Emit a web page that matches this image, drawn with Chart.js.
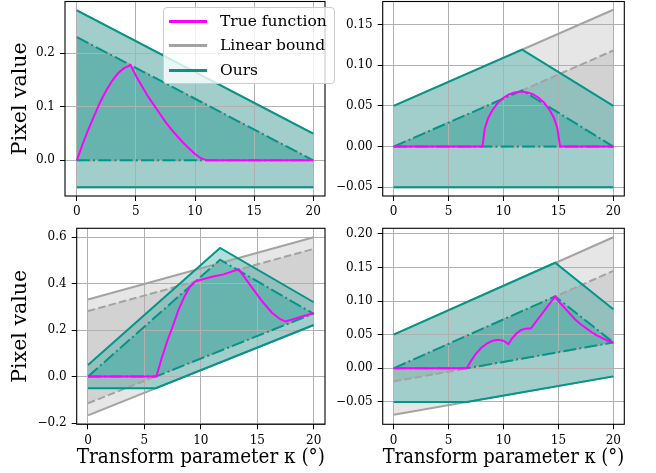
<!DOCTYPE html>
<html>
<head>
<meta charset="utf-8">
<script src="https://cdn.jsdelivr.net/npm/chart.js@4"></script>
<style>
body { margin: 0; background: #fff; }
#wrap { position: relative; width: 656px; height: 473px; overflow: hidden; }
#wrap canvas { position: absolute; left: 0; top: 0; }
#legend {
    position: absolute; left: 163px; top: 7px; width: 172px; height: 77px;
    box-sizing: border-box; border: 1px solid #cccccc; border-radius: 4px;
    background: rgba(255, 255, 255, 0.8);
    font-family: "DejaVu Serif", serif; font-size: 15.5px; color: #000;
}
#legend .row { position: absolute; left: 0; width: 100%; height: 0; }
#legend .sw { position: absolute; left: 5px; width: 38px; top: -1.5px; height: 3px; }
#legend .lab { position: absolute; left: 56px; top: -10px; line-height: 20px; white-space: nowrap; }
</style>
</head>
<body>
<div id="wrap">
    <canvas id="p1" width="656" height="473"></canvas>
    <canvas id="p2" width="656" height="473"></canvas>
    <canvas id="p3" width="656" height="473"></canvas>
    <canvas id="p4" width="656" height="473"></canvas>
    <div id="legend"></div>
</div>
<script>
// Shared axis text
const xTicks = [0, 5, 10, 15, 20];
const xTickLabels = ['0', '5', '10', '15', '20'];
const xLabel = 'Transform parameter κ (°)';
const yLabel = 'Pixel value';
const legendLabels = ['True function', 'Linear bound', 'Ours'];
const kEnds = [0, 20];

// Panel 1 (top left)
const p1TrueX = [0, 0.5, 1, 1.5, 2, 2.5, 3, 3.5, 4, 4.55, 5, 5.5, 6, 6.5, 7, 7.5, 8, 8.5, 9, 9.5, 10, 10.5, 11, 20];
const p1TrueY = [0, 0.031, 0.059, 0.085, 0.110, 0.131, 0.149, 0.163, 0.172, 0.178, 0.158, 0.139, 0.120, 0.104, 0.088, 0.072, 0.058, 0.045, 0.033, 0.022, 0.012, 0.004, 0, 0];
const p1LinOuterUp = [0.28, 0.05];
const p1LinOuterLo = [-0.05, -0.05];
const p1LinInnerUp = [0.23, 0];
const p1LinInnerLo = [0, 0];
const p1OursUpX = [0, 20];
const p1OursOuterUp = [0.28, 0.05];
const p1OursInnerUp = [0.23, 0];
const p1OursLoX = [0, 20];
const p1OursOuterLo = [-0.05, -0.05];
const p1OursInnerLo = [0, 0];
const p1YTicks = [0, 0.1, 0.2];
const p1YLabels = ['0.0', '0.1', '0.2'];

// Panel 2 (top right)
const p2TrueX = [0, 8.08, 8.3, 8.6, 9, 9.5, 10, 10.5, 11, 11.6, 12.2, 12.7, 13.2, 13.7, 14.2, 14.6, 14.9, 15.15, 20];
const p2TrueY = [0, 0, 0.023, 0.035, 0.045, 0.054, 0.060, 0.064, 0.0665, 0.0676, 0.0665, 0.064, 0.060, 0.054, 0.045, 0.035, 0.023, 0, 0];
const p2LinOuterUp = [0.05, 0.168];
const p2LinOuterLo = [-0.05, -0.05];
const p2LinInnerUp = [0, 0.118];
const p2LinInnerLo = [0, 0];
const p2OursUpX = [0, 11.7, 20];
const p2OursOuterUp = [0.05, 0.119, 0.05];
const p2OursInnerUp = [0, 0.069, 0];
const p2OursLoX = [0, 20];
const p2OursOuterLo = [-0.05, -0.05];
const p2OursInnerLo = [0, 0];
const p2YTicks = [-0.05, 0, 0.05, 0.1, 0.15];
const p2YLabels = ['\u22120.05', '0.00', '0.05', '0.10', '0.15'];

// Panel 3 (bottom left)
const p3TrueX = [0, 6.06, 6.5, 7, 7.5, 8, 8.5, 9, 9.5, 11, 12, 13.35, 14.5, 15.5, 16.3, 17, 17.5, 20];
const p3TrueY = [0, 0, 0.075, 0.15, 0.215, 0.285, 0.34, 0.385, 0.41, 0.43, 0.44, 0.462, 0.385, 0.32, 0.275, 0.248, 0.237, 0.274];
const p3LinOuterUp = [0.332, 0.600];
const p3LinOuterLo = [-0.167, 0.222];
const p3LinInnerUp = [0.282, 0.55];
const p3LinInnerLo = [-0.115, 0.272];
const p3OursUpX = [0, 11.7, 20];
const p3OursOuterUp = [0.05, 0.554, 0.32];
const p3OursInnerUp = [0, 0.503, 0.27];
const p3OursLoX = [0, 6, 20];
const p3OursOuterLo = [-0.05, -0.05, 0.222];
const p3OursInnerLo = [0, 0, 0.272];
const p3YTicks = [-0.2, 0, 0.2, 0.4, 0.6];
const p3YLabels = ['\u22120.2', '0.0', '0.2', '0.4', '0.6'];

// Panel 4 (bottom right)
const p4TrueX = [0, 6.66, 7, 7.5, 8, 8.5, 9, 9.5, 10, 10.45, 10.8, 11.2, 11.6, 12, 12.5, 14.7, 15, 15.5, 16, 16.5, 17, 17.5, 18, 18.5, 19, 19.5, 20];
const p4TrueY = [0, 0, 0.010, 0.022, 0.031, 0.037, 0.041, 0.0425, 0.041, 0.036, 0.045, 0.052, 0.057, 0.059, 0.0595, 0.107, 0.100, 0.091, 0.082, 0.073, 0.066, 0.060, 0.054, 0.049, 0.045, 0.041, 0.0385];
const p4LinOuterUp = [0.05, 0.195];
const p4LinOuterLo = [-0.069, -0.012];
const p4LinInnerUp = [0, 0.145];
const p4LinInnerLo = [-0.0195, 0.0385];
const p4OursUpX = [0, 14.7, 20];
const p4OursOuterUp = [0.05, 0.157, 0.088];
const p4OursInnerUp = [0, 0.107, 0.0385];
const p4OursLoX = [0, 6.66, 20];
const p4OursOuterLo = [-0.05, -0.05, -0.012];
const p4OursInnerLo = [0, 0, 0.0385];
const p4YTicks = [-0.05, 0, 0.05, 0.1, 0.15, 0.2];
const p4YLabels = ['\u22120.05', '0.00', '0.05', '0.10', '0.15', '0.20'];

// Styles
const TEAL = '#009688';
const GREY = '#a3a3a3';
const MAGENTA = '#ff00ff';
const TEAL_FILL = 'rgba(0,150,136,0.3)';
const GREY_FILL = 'rgba(128,128,128,0.2)';
const DASH = [7.5, 3.2];
const DASHDOT = [13, 3.2, 2, 3.2];
const FONT = '"DejaVu Serif", serif';

function pts(xs, ys) {
    return xs.map((x, i) => ({ x: x, y: ys[i] }));
}

function line(xs, ys, color, dash, order, fillColor) {
    return {
        data: pts(xs, ys),
        borderColor: color,
        borderWidth: 2,
        borderDash: dash,
        pointRadius: 0,
        tension: 0,
        order: order,
        fill: fillColor ? '+1' : false,
        backgroundColor: fillColor || 'transparent'
    };
}

// Axes box outline
const frame = {
    id: 'frame',
    afterDatasetsDraw(chart) {
        const a = chart.chartArea;
        const ctx = chart.ctx;
        ctx.save();
        ctx.strokeStyle = '#000';
        ctx.lineWidth = 1.1;
        ctx.strokeRect(a.left, a.top, a.right - a.left, a.bottom - a.top);
        ctx.restore();
    }
};

function makePanel(id, p) {
    const box = p.box;
    const xAxisH = p.xTitle ? 473 - box.b : 30;
    const padL = p.yTitle ? 0 : 330;
    const datasets = [
        line(kEnds, p.linOuterUp, GREY, [], 4, GREY_FILL),
        line(kEnds, p.linOuterLo, GREY, [], 4),
        line(kEnds, p.linInnerUp, GREY, DASH, 3, GREY_FILL),
        line(kEnds, p.linInnerLo, GREY, DASH, 3),
        line(p.upX, p.oursOuterUp, TEAL, [], 2, TEAL_FILL),
        line(p.loX, p.oursOuterLo, TEAL, [], 2),
        line(p.upX, p.oursInnerUp, TEAL, DASHDOT, 1, TEAL_FILL),
        line(p.loX, p.oursInnerLo, TEAL, DASHDOT, 1),
        line(p.trueX, p.trueY, MAGENTA, [], 0)
    ];
    return new Chart(document.getElementById(id), {
        type: 'line',
        data: { datasets: datasets },
        options: {
            responsive: false,
            animation: false,
            events: [],
            layout: { padding: { left: padL, top: box.t, right: 656 - box.r, bottom: 473 - box.b - xAxisH } },
            plugins: {
                legend: { display: false },
                tooltip: { enabled: false },
                filler: { drawTime: 'beforeDraw' }
            },
            scales: {
                x: {
                    type: 'linear', min: -1, max: 21,
                    afterBuildTicks: s => { s.ticks = xTicks.map(v => ({ value: v })); },
                    afterFit: s => { s.height = xAxisH; s.paddingLeft = 0; s.paddingRight = 0; },
                    ticks: {
                        callback: (v, i) => xTickLabels[i],
                        font: { family: FONT, size: 12 }, color: '#000',
                        padding: 4, maxRotation: 0, autoSkip: false
                    },
                    grid: { color: '#b0b0b0', lineWidth: 1, tickColor: '#000', tickLength: 5, tickWidth: 1 },
                    border: { display: false },
                    title: {
                        display: p.xTitle, text: xLabel, color: '#000',
                        font: { family: FONT, size: 20.5 }, padding: { top: 0, bottom: 3 }
                    }
                },
                y: {
                    type: 'linear', min: p.yMin, max: p.yMax,
                    afterBuildTicks: s => { s.ticks = p.yTicks.map(v => ({ value: v })); },
                    afterFit: s => { s.width = box.l - padL; s.paddingTop = 0; s.paddingBottom = 0; },
                    ticks: {
                        callback: (v, i) => p.yLabels[i],
                        font: { family: FONT, size: 12 }, color: '#000',
                        padding: 5, autoSkip: false
                    },
                    grid: { color: '#b0b0b0', lineWidth: 1, tickColor: '#000', tickLength: 5, tickWidth: 1 },
                    border: { display: false },
                    title: {
                        display: p.yTitle, text: yLabel, color: '#000',
                        font: { family: FONT, size: 20.5 }, padding: { top: 8.5, bottom: 0 }
                    }
                }
            }
        },
        plugins: [frame]
    });
}

makePanel('p1', {
    box: { l: 65, r: 325, t: 1.5, b: 196 }, yMin: -0.0665, yMax: 0.2965,
    yTicks: p1YTicks, yLabels: p1YLabels, yTitle: true, xTitle: false,
    trueX: p1TrueX, trueY: p1TrueY,
    linOuterUp: p1LinOuterUp, linOuterLo: p1LinOuterLo, linInnerUp: p1LinInnerUp, linInnerLo: p1LinInnerLo,
    upX: p1OursUpX, oursOuterUp: p1OursOuterUp, oursInnerUp: p1OursInnerUp,
    loX: p1OursLoX, oursOuterLo: p1OursOuterLo, oursInnerLo: p1OursInnerLo
});
makePanel('p2', {
    box: { l: 382.7, r: 624.3, t: 1.5, b: 196 }, yMin: -0.0606, yMax: 0.1781,
    yTicks: p2YTicks, yLabels: p2YLabels, yTitle: false, xTitle: false,
    trueX: p2TrueX, trueY: p2TrueY,
    linOuterUp: p2LinOuterUp, linOuterLo: p2LinOuterLo, linInnerUp: p2LinInnerUp, linInnerLo: p2LinInnerLo,
    upX: p2OursUpX, oursOuterUp: p2OursOuterUp, oursInnerUp: p2OursInnerUp,
    loX: p2OursLoX, oursOuterLo: p2OursOuterLo, oursInnerLo: p2OursInnerLo
});
makePanel('p3', {
    box: { l: 76.7, r: 325, t: 228.3, b: 424.3 }, yMin: -0.2054, yMax: 0.6384,
    yTicks: p3YTicks, yLabels: p3YLabels, yTitle: true, xTitle: true,
    trueX: p3TrueX, trueY: p3TrueY,
    linOuterUp: p3LinOuterUp, linOuterLo: p3LinOuterLo, linInnerUp: p3LinInnerUp, linInnerLo: p3LinInnerLo,
    upX: p3OursUpX, oursOuterUp: p3OursOuterUp, oursInnerUp: p3OursInnerUp,
    loX: p3OursLoX, oursOuterLo: p3OursOuterLo, oursInnerLo: p3OursInnerLo
});
makePanel('p4', {
    box: { l: 382.7, r: 624.3, t: 228.3, b: 424.3 }, yMin: -0.0833, yMax: 0.2083,
    yTicks: p4YTicks, yLabels: p4YLabels, yTitle: false, xTitle: true,
    trueX: p4TrueX, trueY: p4TrueY,
    linOuterUp: p4LinOuterUp, linOuterLo: p4LinOuterLo, linInnerUp: p4LinInnerUp, linInnerLo: p4LinInnerLo,
    upX: p4OursUpX, oursOuterUp: p4OursOuterUp, oursInnerUp: p4OursInnerUp,
    loX: p4OursLoX, oursOuterLo: p4OursOuterLo, oursInnerLo: p4OursInnerLo
});

// Legend (drawn over the top-left panel)
const legendColors = [MAGENTA, GREY, TEAL];
const legendRowsY = [13, 37, 62];
const legend = document.getElementById('legend');
legendLabels.forEach((txt, i) => {
    const row = document.createElement('div');
    row.className = 'row';
    row.style.top = legendRowsY[i] + 'px';
    row.innerHTML = '<div class="sw" style="background:' + legendColors[i] + '"></div><div class="lab">' + txt + '</div>';
    legend.appendChild(row);
});
</script>
</body>
</html>
